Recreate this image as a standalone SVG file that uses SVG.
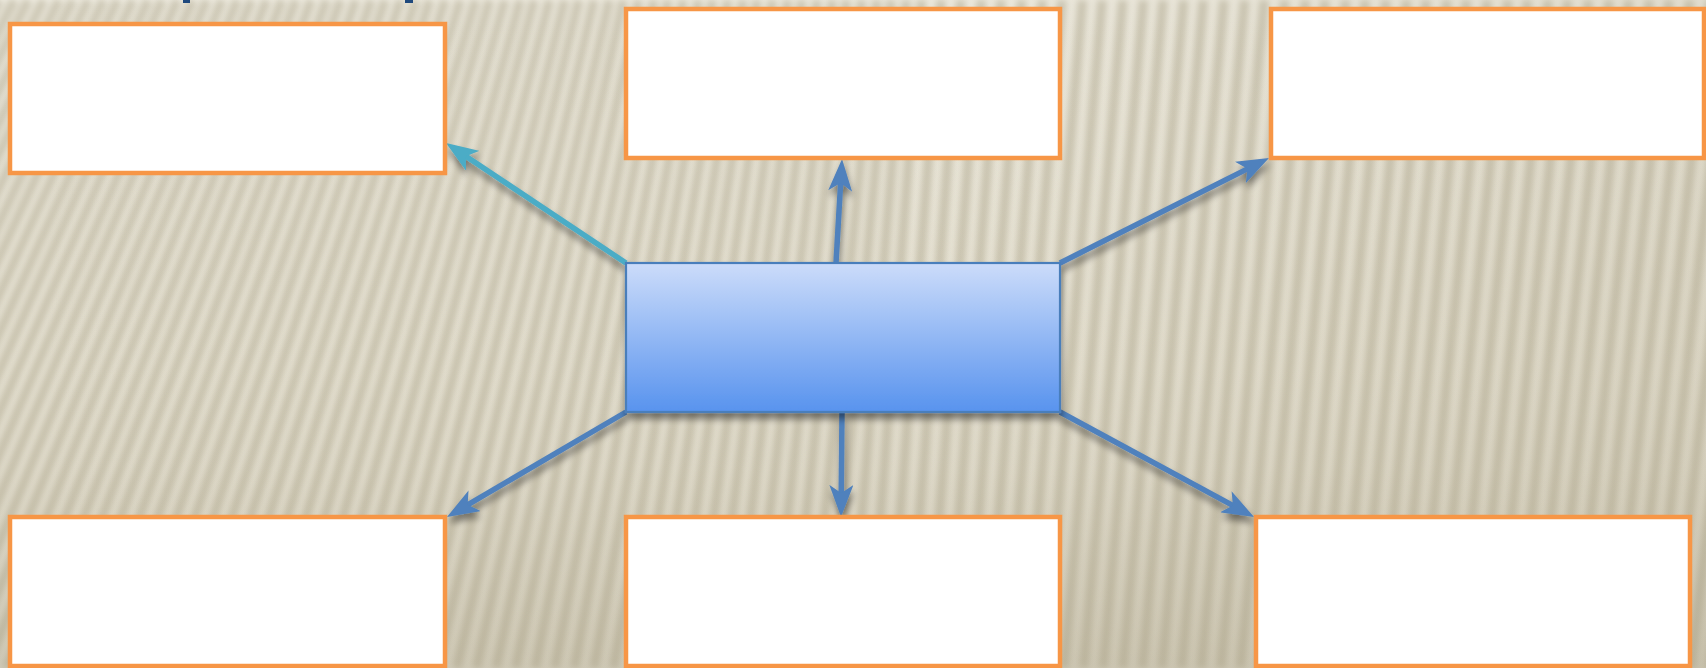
<svg xmlns="http://www.w3.org/2000/svg" width="1706" height="668" viewBox="0 0 1706 668">
<defs>
<style>
.box{fill:#FFFFFF;stroke:#F79646;stroke-width:4.5}
.conn{fill:none;stroke-width:5.5;stroke-linecap:butt}
.blue{stroke:#4F81BD}
.teal{stroke:#4BACC6}
.stripe{fill:none;stroke:#ACA38A;stroke-opacity:0.5;stroke-width:9}
</style>
<linearGradient id="bgV" x1="0" y1="0" x2="0" y2="1">
<stop offset="0" stop-color="#F0EDE2"/>
<stop offset="0.55" stop-color="#EBE7D9"/>
<stop offset="1" stop-color="#DDD8C8"/>
</linearGradient>
<linearGradient id="bgH" x1="0" y1="0" x2="1" y2="0">
<stop offset="0" stop-color="#A89E82" stop-opacity="0"/>
<stop offset="0.5" stop-color="#A89E82" stop-opacity="0.04"/>
<stop offset="1" stop-color="#A89E82" stop-opacity="0.2"/>
</linearGradient>
<linearGradient id="bgLow" x1="0" y1="0" x2="0" y2="1">
<stop offset="0" stop-color="#9E9476" stop-opacity="0"/>
<stop offset="0.7" stop-color="#9E9476" stop-opacity="0.05"/>
<stop offset="1" stop-color="#9E9476" stop-opacity="0.2"/>
</linearGradient>
<linearGradient id="center" x1="0" y1="0" x2="0" y2="1">
<stop offset="0" stop-color="#CCDCFA"/>
<stop offset="1" stop-color="#5893EE"/>
</linearGradient>
<filter id="blur" filterUnits="userSpaceOnUse" x="-400" y="-20" width="2400" height="720">
<feGaussianBlur stdDeviation="3"/>
</filter>
<filter id="shadow" filterUnits="userSpaceOnUse" x="0" y="0" width="1706" height="668">
<feGaussianBlur in="SourceAlpha" stdDeviation="3.5"/>
<feOffset dx="1" dy="6" result="b"/>
<feComponentTransfer><feFuncA type="linear" slope="0.45"/></feComponentTransfer>
<feMerge><feMergeNode/><feMergeNode in="SourceGraphic"/></feMerge>
</filter>
<marker id="ahBlue" viewBox="0 0 32 24" refX="14" refY="12" markerWidth="32" markerHeight="24" markerUnits="userSpaceOnUse" orient="auto">
<path d="M0,0 L32,12 L0,24 L8,12 z" fill="#4F81BD"/>
</marker>
<marker id="ahTeal" viewBox="0 0 32 24" refX="14" refY="12" markerWidth="32" markerHeight="24" markerUnits="userSpaceOnUse" orient="auto">
<path d="M0,0 L32,12 L0,24 L8,12 z" fill="#4BACC6"/>
</marker>
</defs>

<g id="background">
<rect x="0" y="0" width="1706" height="668" fill="url(#bgV)"/>
<g filter="url(#blur)">
<path class="stripe" transform="scale(1.088 1)" d="M-318,668 L-1,0 M-300,668 L13,0 M-282,668 L26,0 M-264,668 L40,0 M-246,668 L54,0 M-228,668 L67,0 M-210,668 L81,0 M-192,668 L95,0 M-174,668 L108,0 M-156,668 L122,0 M-138,668 L136,0 M-120,668 L149,0 M-102,668 L163,0 M-84,668 L177,0 M-66,668 L190,0 M-48,668 L204,0 M-30,668 L218,0 M-12,668 L231,0 M6,668 L245,0 M24,668 L259,0 M42,668 L272,0 M60,668 L286,0 M78,668 L300,0 M96,668 L313,0 M114,668 L327,0 M132,668 L341,0 M150,668 L354,0 M168,668 L368,0 M186,668 L382,0 M204,668 L395,0 M222,668 L409,0 M240,668 L423,0 M258,668 L437,0 M276,668 L450,0 M294,668 L464,0 M312,668 L478,0 M330,668 L491,0 M348,668 L505,0 M366,668 L519,0 M384,668 L532,0 M402,668 L546,0 M420,668 L560,0 M438,668 L573,0 M456,668 L587,0 M474,668 L601,0 M492,668 L614,0 M510,668 L628,0 M528,668 L642,0 M546,668 L655,0 M564,668 L669,0 M582,668 L683,0 M600,668 L696,0 M618,668 L710,0 M636,668 L724,0 M654,668 L737,0 M672,668 L751,0 M690,668 L765,0 M708,668 L778,0 M726,668 L792,0 M744,668 L806,0 M762,668 L819,0 M780,668 L833,0 M798,668 L847,0 M816,668 L865,0 M834,668 L883,0 M852,668 L902,0 M870,668 L920,0 M888,668 L939,0 M906,668 L958,0 M924,668 L976,0 M942,668 L995,0 M960,668 L1013,0 M978,668 L1032,0 M996,668 L1051,0 M1014,668 L1069,0 M1032,668 L1088,0 M1050,668 L1106,0 M1068,668 L1125,0 M1086,668 L1144,0 M1104,668 L1162,0 M1122,668 L1181,0 M1140,668 L1200,0 M1158,668 L1218,0 M1176,668 L1237,0 M1194,668 L1255,0 M1212,668 L1274,0 M1230,668 L1293,0 M1248,668 L1311,0 M1266,668 L1330,0 M1284,668 L1348,0 M1302,668 L1367,0 M1320,668 L1386,0 M1338,668 L1404,0 M1356,668 L1423,0 M1374,668 L1441,0 M1392,668 L1460,0 M1410,668 L1479,0 M1428,668 L1497,0 M1446,668 L1516,0 M1464,668 L1534,0 M1482,668 L1553,0 M1500,668 L1572,0 M1518,668 L1590,0 M1536,668 L1609,0 M1554,668 L1627,0 M1572,668 L1646,0 M1590,668 L1665,0 M1608,668 L1683,0"/>
</g>
<rect x="0" y="0" width="1706" height="668" fill="url(#bgH)"/>
<rect x="0" y="0" width="1706" height="668" fill="url(#bgLow)"/>
<rect x="183" y="0" width="7" height="3" fill="#1F497D"/>
<rect x="405" y="0" width="8" height="3" fill="#1F497D"/>
</g>

<g id="connectors" filter="url(#shadow)">
<line class="conn teal" x1="626" y1="263" x2="461" y2="153" marker-end="url(#ahTeal)"/>
<line class="conn blue" x1="836" y1="263" x2="841" y2="177" marker-end="url(#ahBlue)"/>
<line class="conn blue" x1="1060" y1="263" x2="1252.9" y2="166.1" marker-end="url(#ahBlue)"/>
<line class="conn blue" x1="626" y1="412" x2="462.5" y2="507.9" marker-end="url(#ahBlue)"/>
<line class="conn blue" x1="842" y1="412" x2="841.2" y2="499" marker-end="url(#ahBlue)"/>
<line class="conn blue" x1="1060" y1="412" x2="1238.2" y2="508.4" marker-end="url(#ahBlue)"/>
</g>

<g id="node-center">
<rect x="626" y="263" width="434" height="149" fill="url(#center)" stroke="#4A7EBB" stroke-width="2.2" filter="url(#shadow)"/>
</g>
<g id="node-top-left"><rect class="box" x="10" y="24" width="435" height="149"/></g>
<g id="node-top-center"><rect class="box" x="626" y="9" width="434" height="149"/></g>
<g id="node-top-right"><rect class="box" x="1271" y="9" width="433" height="149"/></g>
<g id="node-bottom-left"><rect class="box" x="10" y="517" width="435" height="149"/></g>
<g id="node-bottom-center"><rect class="box" x="626" y="517" width="434" height="149"/></g>
<g id="node-bottom-right"><rect class="box" x="1256" y="517" width="434" height="149"/></g>
</svg>
